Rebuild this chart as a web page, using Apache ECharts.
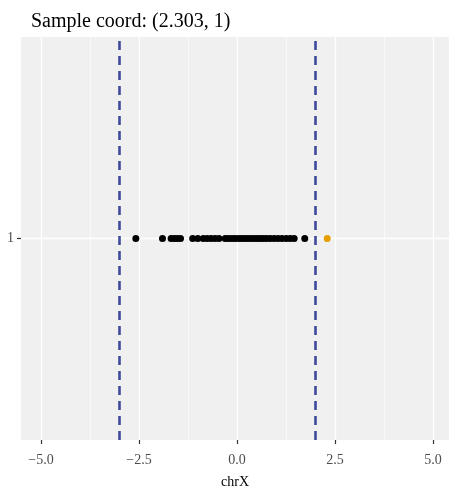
<!DOCTYPE html>
<html lang="en">
<head>
  <meta charset="utf-8">
  <title>Sample coord</title>
  <script src="https://cdn.jsdelivr.net/npm/echarts@6/dist/echarts.min.js"></script>
  <style>
    html, body { margin: 0; padding: 0; background: #fff; }
    #chart { width: 449px; height: 489px; }
  </style>
</head>
<body>
  <div id="chart"></div>
  <script>
    // values
    var categories = ['1'];
    var otherX = [-2.58, -1.90, -1.68, -1.60, -1.52, -1.44, -1.13, -1.00, -0.86, -0.76,
      -0.66, -0.56, -0.46, -0.30, -0.22, -0.13, -0.05, 0.04, 0.12, 0.20, 0.28, 0.36,
      0.44, 0.52, 0.60, 0.68, 0.76, 0.85, 0.95, 1.05, 1.15, 1.26, 1.36, 1.46, 1.73];
    var sampleX = [2.303];
    var cutoffs = [-3, 2];
    var majorTicks = [-5, -2.5, 0, 2.5, 5];
    var minorTicks = [-3.75, -1.25, 1.25, 3.75];

    var serif = '"Liberation Serif", "DejaVu Serif", serif';

    function fmt(v) {
      return v.toFixed(1).replace('-', '\u2212');
    }

    var plot = echarts.init(document.getElementById('chart'));

    var option = {
      backgroundColor: '#ffffff',
      animation: false,
      title: {
        text: 'Sample coord: (' + sampleX[0] + ', 1)',
        left: 26,
        top: 7,
        textStyle: { fontFamily: serif, fontSize: 20, fontWeight: 'normal', color: '#000' }
      },
      grid: {
        left: 21, right: 0, top: 37, bottom: 49,
        outerBoundsMode: 'none',
        containLabel: false,
        show: true, backgroundColor: '#f0f0f0', borderWidth: 0
      },
      xAxis: {
        type: 'value',
        min: -5.51,
        max: 5.41,
        name: 'chrX',
        nameLocation: 'middle',
        nameGap: 35,
        nameTextStyle: { fontFamily: serif, fontSize: 14, color: '#000' },
        axisLine: { show: false },
        axisTick: { show: true, customValues: majorTicks, length: 4, lineStyle: { color: '#333333', width: 1.2 } },
        axisLabel: {
          customValues: majorTicks, formatter: fmt, margin: 13,
          fontFamily: serif, fontSize: 14, color: '#4d4d4d'
        },
        splitLine: { show: false }
      },
      yAxis: {
        type: 'category',
        data: categories,
        axisLine: { show: false, onZero: false },
        axisTick: { show: true, alignWithLabel: true, length: 4, lineStyle: { color: '#333333', width: 1.2 } },
        axisLabel: { fontFamily: serif, fontSize: 14, color: '#4d4d4d', margin: 7 },
        splitLine: { show: false }
      },
      series: [
        {
          // panel grid lines
          type: 'scatter',
          data: [],
          z: 1,
          silent: true,
          markLine: {
            z: 1,
            symbol: 'none',
            silent: true,
            label: { show: false },
            data: majorTicks.map(function (v) {
              return { xAxis: v, lineStyle: { color: '#ffffff', width: 1.3, type: 'solid' } };
            }).concat(minorTicks.map(function (v) {
              return { xAxis: v, lineStyle: { color: '#ffffff', width: 0.6, type: 'solid' } };
            })).concat([
              { yAxis: categories[0], lineStyle: { color: '#ffffff', width: 1.3, type: 'solid' } }
            ])
          }
        },
        {
          type: 'scatter',
          data: otherX.map(function (v) { return [v, categories[0]]; }),
          symbolSize: 7,
          itemStyle: { color: '#000000', opacity: 1 },
          z: 3
        },
        {
          type: 'scatter',
          data: sampleX.map(function (v) { return [v, categories[0]]; }),
          symbolSize: 7,
          itemStyle: { color: '#E69F00', opacity: 1 },
          z: 3,
          markLine: {
            z: 4,
            symbol: 'none',
            silent: true,
            label: { show: false },
            lineStyle: { color: '#3F4A9A', width: 2.6, type: [9, 6] },
            data: cutoffs.map(function (v) { return { xAxis: v }; })
          }
        }
      ]
    };
    plot.setOption(option);
  </script>
</body>
</html>
